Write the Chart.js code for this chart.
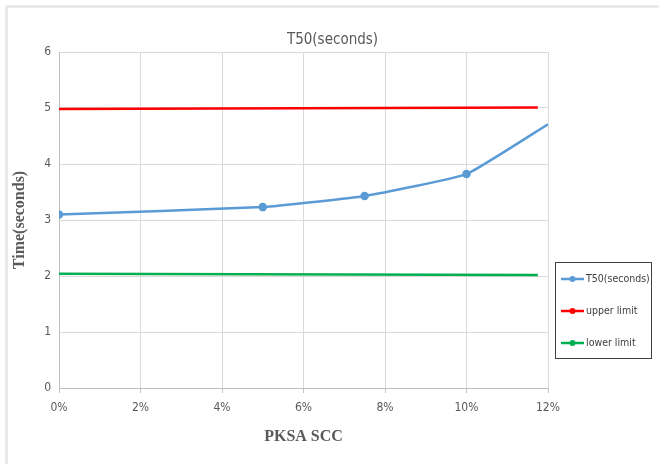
<!DOCTYPE html>
<html lang="en">
<head>
<meta charset="UTF-8">
<title>T50(seconds)</title>
<script src="https://cdn.jsdelivr.net/npm/chart.js"></script>
<style>
  html, body { margin: 0; padding: 0; background: #fff; }
  .wrap { position: relative; width: 659px; height: 464px; }
</style>
</head>
<body>
<div class="wrap"><canvas id="t50Chart" width="659" height="464"></canvas></div>
<script>
// data
const pksa = [0, 5, 7.5, 10, 12];
const t50 = [3.1, 3.23, 3.43, 3.82, 4.71];
const limitX = [0, 11.75];
const upperLimit = [4.98, 5.01];
const lowerLimit = [2.04, 2.02];
const seriesNames = ["T50(seconds)", "upper limit", "lower limit"];
const seriesColors = ["#5B9BD5", "#FF0000", "#00B050"];

const narrow = '"Liberation Sans Narrow", "DejaVu Sans Condensed", sans-serif';
const serif = '"Liberation Serif", "DejaVu Serif", serif';

function pts(xs, ys) {
  return xs.map((x, i) => ({ x: x, y: ys[i] }));
}

// legend with line + marker, like the spreadsheet one
const boxLegend = {
  id: 'boxLegend',
  afterDraw(chart) {
    const ctx = chart.ctx;
    ctx.save();
    ctx.strokeStyle = '#404040';
    ctx.lineWidth = 1;
    ctx.strokeRect(555.5, 262.5, 96, 96);
    seriesNames.forEach((name, i) => {
      const y = 279 + i * 32;
      ctx.strokeStyle = seriesColors[i];
      ctx.fillStyle = seriesColors[i];
      ctx.lineWidth = 2.5;
      ctx.beginPath();
      ctx.moveTo(561, y);
      ctx.lineTo(584, y);
      ctx.stroke();
      ctx.beginPath();
      ctx.arc(572.5, y, 3, 0, Math.PI * 2);
      ctx.fill();
      ctx.fillStyle = '#404040';
      ctx.font = '10.5px ' + narrow;
      ctx.textBaseline = 'middle';
      ctx.fillText(name, 586, y);
    });
    // faint frame of the original sheet
    ctx.strokeStyle = '#e6e6e6';
    ctx.beginPath();
    ctx.moveTo(6.5, 464);
    ctx.lineTo(6.5, 6.5);
    ctx.lineTo(659, 6.5);
    ctx.stroke();
    ctx.restore();
  }
};

new Chart(document.getElementById('t50Chart'), {
  type: 'scatter',
  data: {
    datasets: [
      {
        label: seriesNames[0],
        data: pts(pksa, t50),
        showLine: true,
        borderColor: seriesColors[0],
        backgroundColor: seriesColors[0],
        borderWidth: 2.5,
        pointRadius: [3, 3, 3, 3, 0],
        pointHoverRadius: 0,
        tension: 0.12
      },
      {
        label: seriesNames[1],
        data: pts(limitX, upperLimit),
        showLine: true,
        borderColor: seriesColors[1],
        backgroundColor: seriesColors[1],
        borderWidth: 2.5,
        pointRadius: 0
      },
      {
        label: seriesNames[2],
        data: pts(limitX, lowerLimit),
        showLine: true,
        borderColor: seriesColors[2],
        backgroundColor: seriesColors[2],
        borderWidth: 2.5,
        pointRadius: 0
      }
    ]
  },
  options: {
    responsive: false,
    animation: false,
    events: [],
    layout: { padding: { left: 6, right: 0, top: 0, bottom: 14 } },
    plugins: {
      legend: { display: false },
      tooltip: { enabled: false },
      title: {
        display: true,
        text: 'T50(seconds)',
        color: '#595959',
        font: { family: narrow, size: 15, weight: 'normal' },
        padding: { top: 31, bottom: 3 }
      }
    },
    scales: {
      x: {
        type: 'linear',
        min: 0,
        max: 12,
        ticks: {
          stepSize: 2,
          color: '#595959',
          font: { family: narrow, size: 12 },
          padding: 8,
          callback: v => v + '%'
        },
        grid: { color: '#d9d9d9', tickLength: 5, tickColor: '#bfbfbf' },
        border: { color: '#bfbfbf' },
        title: {
          display: true,
          text: 'PKSA SCC',
          color: '#595959',
          font: { family: serif, size: 16, weight: 'bold' },
          padding: { top: 4 }
        },
        afterFit: s => { s.height = 62; }
      },
      y: {
        min: 0,
        max: 6,
        ticks: {
          stepSize: 1,
          color: '#595959',
          font: { family: narrow, size: 12 },
          padding: 8
        },
        grid: { color: '#d9d9d9', drawTicks: false },
        border: { color: '#bfbfbf' },
        title: {
          display: true,
          text: 'Time(seconds)',
          color: '#595959',
          font: { family: serif, size: 16, weight: 'bold' },
          padding: { bottom: 4 }
        },
        afterFit: s => { s.width = 53; }
      },
      // empty strip on the right that holds the legend box
      side: {
        position: 'right',
        min: 0,
        max: 6,
        ticks: { display: false },
        grid: { display: false, drawTicks: false },
        border: { display: false },
        afterFit: s => { s.width = 111; }
      }
    }
  },
  plugins: [boxLegend]
});
</script>
</body>
</html>
